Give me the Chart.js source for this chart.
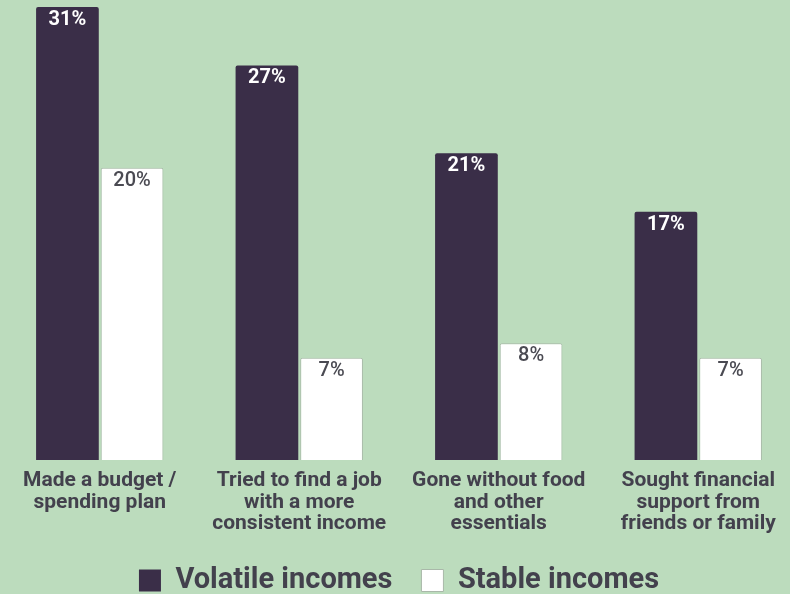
<!DOCTYPE html>
<html>
<head>
<meta charset="utf-8">
<script src="https://cdn.jsdelivr.net/npm/chart.js@4"></script>
<style>
  html, body { margin: 0; padding: 0; background: #bcdcbd; overflow: hidden; }
  #wrap { position: relative; width: 798px; height: 594px; }
</style>
</head>
<body>
<div id="wrap"><canvas id="chart"></canvas></div>
<script>
// Data
const categories = [
    ['Made a budget /', 'spending plan'],
    ['Tried to find a job', 'with a more', 'consistent income'],
    ['Gone without food', 'and other', 'essentials'],
    ['Sought financial', 'support from', 'friends or family']
];
const volatileIncomes = [31, 27, 21, 17];
const stableIncomes = [20, 7, 8, 7];

const DARK = '#3a2e48';
const TEXT = '#43414d';

// Draw value labels just inside the top of each bar
const valueLabels = {
    id: 'valueLabels',
    afterDatasetsDraw(chart) {
        const { ctx } = chart;
        ctx.save();
        ctx.textAlign = 'center';
        ctx.textBaseline = 'middle';
        chart.data.datasets.forEach((ds, i) => {
            ctx.font = (i === 0 ? 'bold' : '500') + ' 20px Roboto';
            ctx.fillStyle = i === 0 ? '#ffffff' : '#4a4a52';
            chart.getDatasetMeta(i).data.forEach((bar, j) => {
                ctx.fillText(ds.data[j] + '%', bar.x, bar.y + 13);
            });
        });
        ctx.restore();
    }
};

const ctx = document.getElementById('chart').getContext('2d');
new Chart(ctx, {
    type: 'bar',
    data: {
        labels: categories,
        datasets: [
            {
                label: 'Volatile incomes',
                data: volatileIncomes,
                backgroundColor: DARK,
                borderColor: '#2e2538',
                borderWidth: 0,
                borderRadius: 2,
                categoryPercentage: 0.648,
                barPercentage: 0.97
            },
            {
                label: 'Stable incomes',
                data: stableIncomes,
                backgroundColor: '#ffffff',
                borderColor: '#a9b8a9',
                borderWidth: 1,
                borderRadius: 2,
                categoryPercentage: 0.648,
                barPercentage: 0.97
            }
        ]
    },
    options: {
        responsive: true,
        maintainAspectRatio: false,
        animation: false,
        layout: { padding: { top: 7, left: 0, right: 0, bottom: -11 } },
        plugins: {
            tooltip: { enabled: false },
            legend: {
                position: 'bottom',
                labels: {
                    color: TEXT,
                    font: { family: 'Roboto', size: 29, weight: 'bold' },
                    boxWidth: 22,
                    boxHeight: 22,
                    padding: 29
                }
            }
        },
        scales: {
            x: {
                grid: { display: false },
                border: { display: false },
                ticks: {
                    color: TEXT,
                    font: { family: 'Roboto', size: 21, weight: 'bold', lineHeight: 1.03 },
                    padding: 2,
                    maxRotation: 0,
                    autoSkip: false
                }
            },
            y: {
                display: false,
                min: 0,
                max: 31
            }
        }
    },
    plugins: [valueLabels]
});
</script>
</body>
</html>
